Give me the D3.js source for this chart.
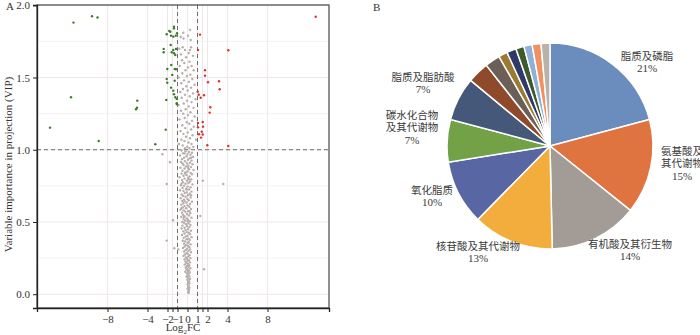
<!DOCTYPE html>
<html>
<head>
<meta charset="utf-8">
<script src="https://cdn.jsdelivr.net/npm/d3@7"></script>
<style>
  body { margin: 0; background: #fff; }
  svg { display: block; }
</style>
</head>
<body>
<div id="chart"></div>
<script>
// ---- data: volcano (log2FC, VIP) ----
const downPts = [
  [-11.4,1.88],[-9.55,1.924],[-9.0,1.915],[-11.65,1.363],[-13.75,1.153],[-8.88,1.061],
  [-5.02,1.34],[-5.15,1.28],[-5.05,1.291],[-3.22,1.038],[-2.18,1.139],[-2.12,1.345],
  [-2.38,1.698],[-2.38,1.675],[-2.02,1.559],[-2.08,1.49],[-2.02,1.464],
  [-1.35,1.852],[-1.82,1.822],[-1.72,1.817],[-1.35,1.84],[-2.08,1.80],[-1.65,1.79],
  [-1.42,1.783],[-1.18,1.79],[-1.05,1.806],[-1.68,1.725],[-1.42,1.69],[-1.15,1.698],
  [-1.58,1.675],[-1.35,1.668],[-1.22,1.656],[-1.62,1.587],[-1.28,1.559],[-1.15,1.557],
  [-1.52,1.518],[-1.28,1.478],[-1.65,1.43],[-1.42,1.409],[-1.35,1.384],[-1.22,1.363],
  [-1.08,1.352],[-1.08,1.322],[-1.05,1.315]
];
const upPts = [
  [12.82,1.921],[1.25,1.797],[1.05,1.69],[4.08,1.689],[1.75,1.55],[1.75,1.513],
  [2.05,1.467],[3.15,1.474],[3.22,1.419],[1.02,1.402],[1.12,1.381],[1.65,1.377],
  [1.32,1.36],[2.28,1.294],[2.22,1.257],[1.52,1.192],[1.05,1.185],[1.55,1.16],
  [1.05,1.155],[1.42,1.125],[1.15,1.107],[1.52,1.106],[1.35,1.084],[1.98,1.031],[4.08,1.026]
];
const nsPts = [
  // upper band
  [0.25,1.83],[-0.42,1.81],[-0.68,1.78],[0.32,1.76],[-0.40,1.77],[0.05,1.79],[-0.82,1.70],[-0.48,1.71],
  [-0.25,1.69],[0.25,1.69],[0.36,1.71],[-0.65,1.66],[0.12,1.67],[-0.15,1.64],[0.55,1.65],[-0.55,1.62],
  [0.20,1.61],[-0.32,1.60],[0.41,1.58],[-0.78,1.58],[0.05,1.57],[-0.20,1.55],[0.62,1.55],[-0.52,1.53],
  [0.28,1.52],[-0.05,1.51],[-0.88,1.50],[0.48,1.49],[-0.35,1.48],[0.15,1.47],[-0.62,1.46],[0.70,1.45],
  [-0.12,1.44],[0.35,1.43],[-0.45,1.42],[0.02,1.41],[-0.72,1.40],[0.55,1.39],[-0.25,1.38],[0.22,1.37],
  [-0.58,1.36],[0.80,1.35],[-0.05,1.34],[0.40,1.33],[-0.38,1.32],[-0.90,1.31],[0.12,1.30],[0.60,1.29],
  [-0.18,1.28],[-0.65,1.27],[0.30,1.26],[-0.42,1.25],[0.05,1.24],[0.72,1.23],[-0.28,1.22],[-0.80,1.21],
  [0.45,1.20],[-0.08,1.19],[0.18,1.18],[-0.52,1.17],[0.62,1.16],[-0.22,1.15],[0.35,1.14],[-0.70,1.13],
  [0.02,1.12],[-0.40,1.11],[0.50,1.10],[-0.15,1.09],[0.25,1.08],[-0.60,1.07],[0.85,1.07],[-0.30,1.06],
  [0.10,1.05],[-0.85,1.04],[0.40,1.04],[-0.48,1.03],[-0.02,1.02],[0.58,1.02],[-0.25,1.01],[0.20,1.01],
  // middle band
  [-0.60,0.995],[-0.20,0.99],[0.15,0.985],[0.45,0.98],[-0.45,0.975],[0.00,0.97],[0.30,0.965],[-0.75,0.96],
  [-0.10,0.955],[0.55,0.95],[-0.35,0.945],[0.20,0.94],[-0.55,0.935],[0.05,0.93],[0.40,0.925],[-0.25,0.92],
  [-0.65,0.915],[0.25,0.91],[-0.05,0.905],[0.50,0.90],[-0.40,0.895],[0.10,0.89],[-0.15,0.885],[0.35,0.88],
  [-0.70,0.875],[-0.30,0.87],[0.15,0.865],[0.60,0.86],[-0.50,0.855],[0.00,0.85],[-0.20,0.845],[0.30,0.84],
  [-0.60,0.835],[0.45,0.83],[-0.10,0.825],[-0.40,0.82],[0.20,0.815],[-0.80,0.81],[0.05,0.805],[-0.30,0.80],
  [0.38,0.795],[-0.55,0.79],[-0.05,0.785],[0.25,0.78],[-0.45,0.775],[0.10,0.77],[-0.20,0.765],[0.50,0.76],
  [-0.65,0.755],[-0.35,0.75],[0.00,0.745],[0.30,0.74],[-0.50,0.735],[-0.15,0.73],[0.15,0.725],[-0.75,0.72],
  [-0.40,0.715],[0.40,0.71],[-0.08,0.705],[-0.28,0.70],[0.22,0.695],[-0.58,0.69],[0.05,0.685],[-0.45,0.68],
  [-0.20,0.675],[0.32,0.67],[-0.68,0.665],[-0.02,0.66],[-0.35,0.655],[0.12,0.65],[-0.52,0.645],[0.45,0.64],
  [-0.12,0.635],[-0.42,0.63],[0.25,0.625],[-0.62,0.62],[0.00,0.615],[-0.30,0.61],[0.18,0.605],[-0.48,0.60],
  [-0.15,0.595],[0.35,0.59],[-0.70,0.585],[-0.38,0.58],[0.08,0.575],[-0.22,0.57],[-0.55,0.565],[0.28,0.56],
  [-0.05,0.555],[-0.45,0.55],[0.15,0.545],[-0.30,0.54],[-0.62,0.535],[0.40,0.53],[-0.10,0.525],[-0.40,0.52],
  [0.05,0.515],[-0.25,0.51],[0.22,0.505],[-0.52,0.50],
  [-0.30,0.975],[0.35,0.945],[-0.50,0.905],[0.05,0.875],[-0.25,0.835],[0.15,0.795],[-0.60,0.765],
  [-0.10,0.725],[0.35,0.685],[-0.30,0.645],[-0.60,0.595],[0.20,0.575],[-0.35,0.535],[0.00,0.505],
  // lower band
  [-0.35,0.495],[0.10,0.49],[-0.15,0.485],[0.30,0.48],[-0.50,0.475],[-0.05,0.47],[0.20,0.465],[-0.30,0.46],
  [-0.60,0.455],[0.05,0.45],[-0.20,0.445],[0.35,0.44],[-0.42,0.435],[-0.08,0.43],[0.15,0.425],[-0.30,0.42],
  [0.25,0.415],[-0.55,0.41],[0.00,0.405],[-0.18,0.40],[0.40,0.395],[-0.38,0.39],[0.08,0.385],[-0.10,0.38],
  [0.22,0.375],[-0.48,0.37],[-0.25,0.365],[0.12,0.36],[0.00,0.355],[-0.35,0.35],[0.30,0.345],[-0.15,0.34],
  [0.05,0.335],[-0.28,0.33],[0.18,0.325],[-0.45,0.32],[-0.05,0.315],[0.25,0.31],[-0.20,0.305],[0.10,0.30],
  [-0.35,0.295],[0.35,0.29],[-0.10,0.285],[0.02,0.28],[-0.25,0.275],[0.20,0.27],[-0.40,0.265],[0.08,0.26],
  [-0.15,0.255],[0.30,0.25],[-0.05,0.245],[-0.30,0.24],[0.15,0.235],[0.00,0.23],[-0.20,0.225],[0.25,0.22],
  [-0.10,0.215],[0.05,0.21],[-0.28,0.205],[0.18,0.20],[-0.05,0.195],[0.10,0.19],[-0.18,0.185],[0.28,0.18],
  [0.00,0.175],[-0.12,0.17],[0.15,0.165],[0.05,0.16],[-0.22,0.155],[0.22,0.15],[-0.05,0.145],[0.10,0.14],
  [0.00,0.13],[0.18,0.125],[-0.10,0.12],[0.08,0.11],[0.25,0.105],[-0.02,0.10],[0.15,0.09],[0.05,0.085],
  [0.20,0.075],[0.00,0.07],[0.12,0.06],[0.08,0.05],[0.18,0.045],[0.02,0.04],[0.15,0.03],[0.10,0.02],
  [0.05,0.015],[0.12,0.01],
  // scattered
  [-2.52,0.969],[-1.75,0.913],[-2.08,0.763],[1.52,0.786],[3.58,0.763],[-1.45,0.512],[-2.08,0.371],
  [-1.32,0.318],[1.28,0.542],[1.65,0.173],[-0.92,0.31]
];
const xTicks = [-8, -4, -2, -1.5, -1, 0, 1, 1.5, 2, 4, 8];
const xTickLabels = ["−8", "−4", "−2", "", "−1", "0", "1", "", "2", "4", "8"];
const yTicks = [0, 0.5, 1.0, 1.5, 2.0];
const yMinor = [0.25, 0.75, 1.25, 1.75];
const fcCut = [-1, 1];
const vipCut = 1;

// ---- data: pie ----
const classes = ["脂质及磷脂", "氨基酸及其代谢物", "有机酸及其衍生物", "核苷酸及其代谢物", "氧化脂质",
  "碳水化合物及其代谢物", "脂质及脂肪酸", "c8", "c9", "c10", "c11", "c12", "c13", "c14", "c15"];
const shares = [21.0, 15.0, 14.0, 12.8, 10.2, 6.7, 6.9, 3.4, 2.4, 1.4, 1.5, 1.3, 1.3, 1.4, 1.4];
const pctLabels = ["21%", "15%", "14%", "13%", "10%", "7%", "7%"];
const pieColors = ["#6a8dbd", "#e07441", "#a39b96", "#f3ad3c", "#5867a4", "#72a146", "#45587a",
  "#8e4a2a", "#6b5f57", "#9b7a31", "#2f3a68", "#3f5b2b", "#8fb0d8", "#ee9262", "#b9b1ac"];

// label layout (text lines and block centre relative to pie centre)
const pieLabelLayout = [
  { lines: ["脂质及磷脂"], x: 97, y: -84 },
  { lines: ["氨基酸及", "其代谢物"], x: 132, y: 17 },
  { lines: ["有机酸及其衍生物"], x: 80, y: 104 },
  { lines: ["核苷酸及其代谢物"], x: -72, y: 106 },
  { lines: ["氧化脂质"], x: -118, y: 50 },
  { lines: ["碳水化合物", "及其代谢物"], x: -138, y: -19 },
  { lines: ["脂质及脂肪酸"], x: -127, y: -63 }
];

const W = 700, H = 335;
const svg = d3.select("#chart").append("svg").attr("width", W).attr("height", H);
const serif = "'Liberation Serif', 'DejaVu Serif', serif";
const cjk = "'Noto Sans CJK SC', sans-serif";

// ================= Panel A =================
const P = { left: 37, right: 329, top: 5, bottom: 308 };
const x = d3.scaleLinear().domain([-15.05, 14.15]).range([P.left, P.right]);
const y = d3.scaleLinear().domain([-0.0955, 2.002]).range([P.bottom, P.top]);

const gA = svg.append("g");

// grid
gA.selectAll(".gy-minor").data(yMinor).enter().append("line")
  .attr("x1", P.left).attr("x2", P.right)
  .attr("y1", d => y(d)).attr("y2", d => y(d))
  .attr("stroke", "#f4eeee").attr("stroke-width", 0.8);
gA.selectAll(".gy").data(yTicks).enter().append("line")
  .attr("x1", P.left).attr("x2", P.right)
  .attr("y1", d => y(d)).attr("y2", d => y(d))
  .attr("stroke", "#efe6e6").attr("stroke-width", 1);
gA.selectAll(".gx").data(xTicks).enter().append("line")
  .attr("x1", d => x(d)).attr("x2", d => x(d))
  .attr("y1", P.top).attr("y2", P.bottom)
  .attr("stroke", "#efe8e8").attr("stroke-width", 1);

// threshold lines
gA.selectAll(".vcut").data(fcCut).enter().append("line")
  .attr("x1", d => x(d)).attr("x2", d => x(d))
  .attr("y1", P.top).attr("y2", P.bottom)
  .attr("stroke", "#6e6e6e").attr("stroke-width", 1).attr("stroke-dasharray", "4,3");
gA.append("line")
  .attr("x1", P.left).attr("x2", P.right)
  .attr("y1", y(vipCut)).attr("y2", y(vipCut))
  .attr("stroke", "#6e6e6e").attr("stroke-width", 1).attr("stroke-dasharray", "4,3");

// points
function drawPts(data, color) {
  gA.append("g").selectAll("circle").data(data).enter().append("circle")
    .attr("cx", d => x(d[0])).attr("cy", d => y(d[1]))
    .attr("r", 1.2).attr("fill", color);
}
drawPts(nsPts, "#b8adad");
drawPts(downPts, "#3b7a2b");
drawPts(upPts, "#d8302c");

// frame
gA.append("rect")
  .attr("x", P.left).attr("y", P.top)
  .attr("width", P.right - P.left).attr("height", P.bottom - P.top)
  .attr("fill", "none").attr("stroke", "#555").attr("stroke-width", 1.3);

// axes
const axL = gA.append("g").attr("transform", `translate(${P.left},0)`)
  .call(d3.axisLeft(y).tickValues(yTicks).tickFormat(d3.format(".1f")).tickSize(4));
const axB = gA.append("g").attr("transform", `translate(0,${P.bottom})`)
  .call(d3.axisBottom(x).tickValues(xTicks).tickFormat((d, i) => xTickLabels[i]).tickSize(4));
[axL, axB].forEach(a => {
  a.select(".domain").attr("stroke", "#222").attr("stroke-width", 1.3);
  a.selectAll(".tick line").attr("stroke", "#222");
  a.selectAll("text").attr("font-family", serif).attr("font-size", 11).attr("fill", "#333");
});

gA.append("text").attr("x", 6).attr("y", 10)
  .attr("font-family", serif).attr("font-size", 11).attr("fill", "#333").text("A");

gA.append("text")
  .attr("transform", `translate(12,${(P.top + P.bottom) / 2 + 8}) rotate(-90)`)
  .attr("text-anchor", "middle")
  .attr("font-family", serif).attr("font-size", 11).attr("fill", "#333")
  .text("Variable importance in projection (VIP)");

const xl = gA.append("text").attr("x", 183).attr("y", 331).attr("text-anchor", "middle")
  .attr("font-family", serif).attr("font-size", 11).attr("fill", "#333");
xl.append("tspan").text("Log");
xl.append("tspan").attr("font-size", 7).attr("dy", 3).text("2");
xl.append("tspan").attr("dy", -3).text("FC");

// ================= Panel B =================
const cx = 550, cy = 146, R = 103;
const gB = svg.append("g").attr("transform", `translate(${cx},${cy})`);

svg.append("text").attr("x", 373).attr("y", 11)
  .attr("font-family", serif).attr("font-size", 11).attr("fill", "#333").text("B");

const pie = d3.pie().sort(null).value(d => d)(shares);
const arc = d3.arc().innerRadius(0).outerRadius(R);

gB.selectAll("path").data(pie).enter().append("path")
  .attr("d", arc)
  .attr("fill", (d, i) => pieColors[i])
  .attr("stroke", "#fff").attr("stroke-width", 1.5);

const lh = 12.5;
pieLabelLayout.forEach((L, i) => {
  const n = L.lines.length + 1;
  const y0 = L.y - (n - 1) * lh / 2 + 4;
  const t = gB.append("text").attr("text-anchor", "middle").attr("fill", "#3a3a3a");
  L.lines.forEach((ln, k) => {
    t.append("tspan").attr("x", L.x).attr("y", y0 + k * lh)
      .attr("font-family", cjk).attr("font-size", 10.5).text(ln);
  });
  t.append("tspan").attr("x", L.x).attr("y", y0 + L.lines.length * lh)
    .attr("font-family", serif).attr("font-size", 11).text(pctLabels[i]);
});
</script>
</body>
</html>
